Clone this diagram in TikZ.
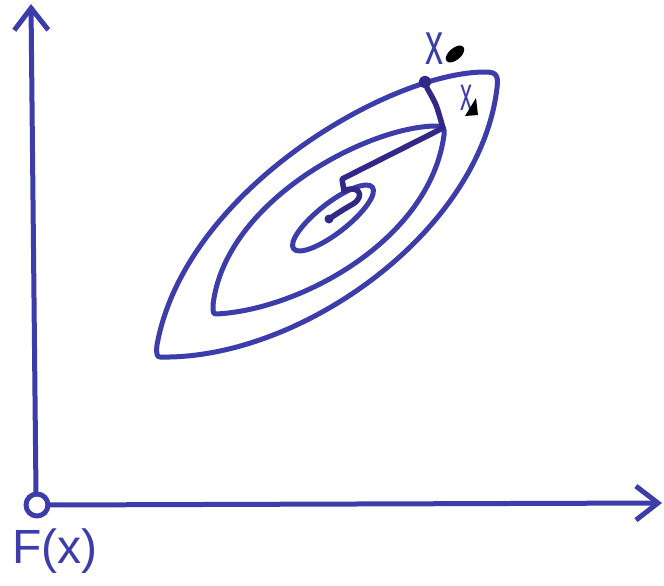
\documentclass[tikz,border=0pt]{standalone}
\usepackage{fontspec}
\setmainfont{Liberation Sans}
\usetikzlibrary{arrows.meta}
\definecolor{pen}{RGB}{60,60,170}
\definecolor{darkpen}{RGB}{50,40,135}
\begin{document}
\begin{tikzpicture}[x=1pt,y=-1pt,
  penline/.style={draw=pen,line width=5pt,line cap=round,line join=round},
  pathline/.style={draw=darkpen,line width=5.5pt,line cap=round,line join=round},
  barb/.style={-{Straight Barb[length=22pt,width=34pt,line width=5pt]}},
  lbl/.style={text=pen,font=\fontsize{#1}{#1}\selectfont,inner sep=0pt}]
\useasboundingbox (0,0) rectangle (664,586);
\coordinate (O) at (37,505);
\coordinate (ytop) at (31,4);
\coordinate (xend) at (662,503);
% axes
\draw[penline,barb] (36,494) -- (ytop);
\draw[penline,barb] (48,505) -- (xend);
\draw[penline] (O) circle (11);
\node[lbl=48,anchor=center] (F) at (55,551) {F(x)};
% outer contour
\draw[penline] (160,357) .. controls (300,360) and (480,232) .. (497,88)
  .. controls (499,74) and (495,72) .. (485,72)
  .. controls (390,72) and (185,190) .. (157,345)
  .. controls (156,354) and (157,357) .. cycle;
% middle contour
\draw[penline] (216,314) .. controls (300,310) and (430,240) .. (444,135)
  .. controls (445,128) and (443,126) .. (438,126)
  .. controls (370,125) and (225,200) .. (213,305)
  .. controls (213,312) and (213,314) .. cycle;
% inner contour
\draw[penline,rotate around={38:(333,218)}] (333,218) ellipse [x radius=50pt,y radius=15pt];
% descent path
\coordinate (x0) at (425,82);
\coordinate (x1) at (443,128);
\coordinate (p2) at (342,179);
\coordinate (xs) at (329,219);
\draw[pathline] (x0) circle (3.5);
\draw[pathline] plot[smooth,tension=0.5] coordinates {(427,88) (436,105) (443,128)} -- (p2)
  -- (344,191) .. controls (358,184) and (366,196) .. (353,204) .. controls (344,209) and (338,213) .. (xs);
\fill[darkpen] (xs) circle (4.5);
% labels
\node[lbl=60] (lx0) at (434,49) {\scalebox{0.6}[1]{x}};
\fill[black,rotate around={40:(455,54)}] (455,54) ellipse [x radius=11pt,y radius=6pt];
\node[lbl=48] (lx1) at (466,98) {\scalebox{0.5}[1]{x}};
\fill[black] (465,116) -- (476,98) -- (478,115) -- cycle;
\end{tikzpicture}
\end{document}
